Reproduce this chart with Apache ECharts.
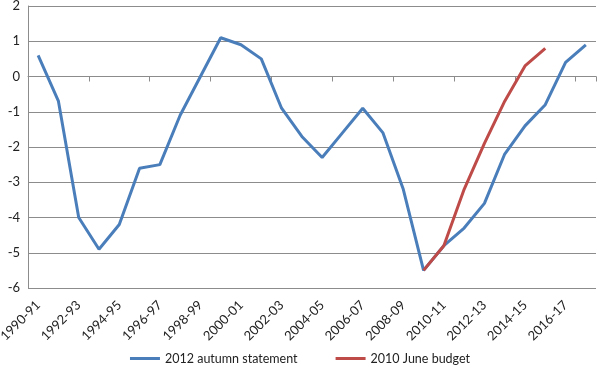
<!DOCTYPE html>
<html><head><meta charset="utf-8">
<script src="https://cdn.jsdelivr.net/npm/echarts@6/dist/echarts.min.js"></script>
<style>html,body{margin:0;padding:0;background:#fff}#c{width:600px;height:378px}</style>
</head><body><div id="c"></div>
<script>
var categories = ['1990-91','1991-92','1992-93','1993-94','1994-95','1995-96','1996-97','1997-98','1998-99','1999-00',
  '2000-01','2001-02','2002-03','2003-04','2004-05','2005-06','2006-07','2007-08','2008-09','2009-10',
  '2010-11','2011-12','2012-13','2013-14','2014-15','2015-16','2016-17','2017-18'];
var autumn2012 = [0.6,-0.7,-4.0,-4.9,-4.2,-2.6,-2.5,-1.1,0.0,1.1,
  0.9,0.5,-0.9,-1.7,-2.3,-1.6,-0.9,-1.6,-3.2,-5.5,
  -4.8,-4.3,-3.6,-2.2,-1.4,-0.8,0.4,0.9];
var june2010 = [null,null,null,null,null,null,null,null,null,null,
  null,null,null,null,null,null,null,null,null,-5.5,
  -4.8,-3.2,-1.9,-0.7,0.3,0.8,null,null];
var yMin = -6, yMax = 2, yStep = 1;

var font = 'Lato, "Open Sans", sans-serif';
var chart = echarts.init(document.getElementById('c'));
chart.setOption({
  animation: false,
  textStyle: {fontFamily: font},
  grid: {left: 28, right: 4, top: 6, bottom: 90, outerBoundsMode: 'none', containLabel: false},
  legend: {
    bottom: 8, left: 'center', itemWidth: 30, itemHeight: 3, itemGap: 38,
    icon: 'rect',
    textStyle: {fontSize: 12.5, color: '#222', fontFamily: font},
    data: ['2012 autumn statement', '2010 June budget']
  },
  xAxis: [{
    type: 'category', data: categories, boundaryGap: true,
    axisLine: {onZero: true, lineStyle: {color: '#8c8c8c', width: 1}},
    axisTick: {show: true, length: 5, alignWithLabel: false, lineStyle: {color: '#8c8c8c'}},
    axisLabel: {show: false}, splitLine: {show: false}
  }, {
    type: 'category', data: categories, boundaryGap: true, position: 'bottom',
    axisLine: {show: false, onZero: false}, axisTick: {show: false},
    axisLabel: {show: true, interval: 1, rotate: 45, fontSize: 13, color: '#222', margin: 15, fontFamily: font},
    splitLine: {show: false}
  }],
  yAxis: {
    type: 'value', min: yMin, max: yMax, interval: yStep,
    axisLine: {show: true, lineStyle: {color: '#8c8c8c'}},
    axisTick: {show: false},
    axisLabel: {fontSize: 13, color: '#222', margin: 8, fontFamily: font},
    splitLine: {show: true, lineStyle: {color: '#8c8c8c', width: 1}}
  },
  series: [{
    name: '2012 autumn statement', type: 'line', data: autumn2012, xAxisIndex: 0,
    symbol: 'none', lineStyle: {color: '#4a7ebb', width: 3}, itemStyle: {color: '#4a7ebb'}
  }, {
    name: '2010 June budget', type: 'line', data: june2010, xAxisIndex: 0,
    symbol: 'none', lineStyle: {color: '#be4b48', width: 3}, itemStyle: {color: '#be4b48'}
  }]
});
</script></body></html>
